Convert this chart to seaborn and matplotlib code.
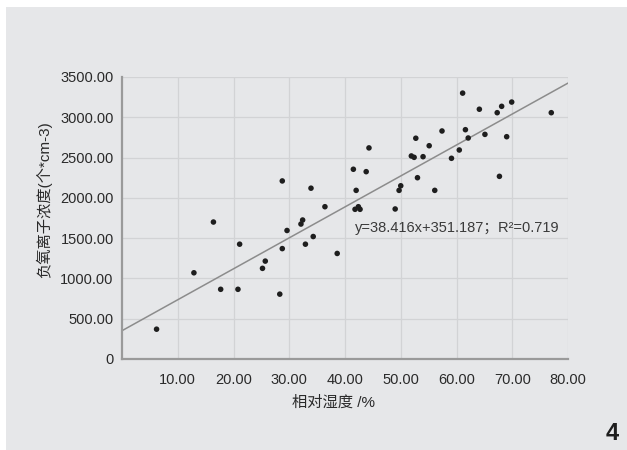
import matplotlib
matplotlib.use("Agg")
import matplotlib.pyplot as plt
import seaborn as sns
import pandas as pd
import numpy as np
from matplotlib.patches import Rectangle
from matplotlib.ticker import FixedLocator, FuncFormatter

# Relative humidity (%) and negative air ion concentration (ions per cm^3)
humidity = [6.2, 12.9, 16.4, 17.7, 20.8, 21.1, 25.2, 25.7, 28.3, 28.75,
            28.75, 29.6, 32.1, 32.4, 32.9, 33.9, 34.3, 36.4, 38.6, 41.5,
            41.8, 42.0, 42.4, 42.7, 43.8, 44.3, 49.0, 49.7, 50.0, 51.9,
            52.4, 52.7, 53.0, 54.0, 55.1, 56.1, 57.4, 59.1, 60.5, 61.1,
            61.6, 62.1, 64.1, 65.1, 67.3, 67.7, 68.1, 69.0, 69.9, 77.0]
ions = [370, 1070, 1700, 865, 865, 1425, 1125, 1215, 805, 2210,
        1370, 1595, 1675, 1725, 1425, 2120, 1520, 1890, 1310, 2355,
        1858, 2093, 1890, 1858, 2325, 2620, 1862, 2093, 2150, 2520,
        2503, 2740, 2250, 2511, 2647, 2093, 2830, 2491, 2594, 3300,
        2846, 2743, 3100, 2788, 3057, 2267, 3136, 2759, 3189, 3057]

# Fitted linear model
slope = 38.416
intercept = 351.187
r_squared = 0.719

x_ticks = [10, 20, 30, 40, 50, 60, 70, 80]
y_ticks = [0, 500, 1000, 1500, 2000, 2500, 3000, 3500]

df = pd.DataFrame({"humidity": humidity, "ions": ions})
fit_x = [0, 80]
fit = pd.DataFrame({"x": fit_x, "y": [slope * v + intercept for v in fit_x]})

sns.set_style("white")
bg = "#e6e7e9"
font_main = ["Liberation Sans", "Noto Sans CJK SC", "DejaVu Sans"]
plt.rcParams["font.family"] = font_main

fig = plt.figure(figsize=(6.27, 4.5), dpi=100)
fig.patch.set_facecolor("white")
fig.patches.append(Rectangle((6 / 627, 0), 1, 443 / 450, transform=fig.transFigure,
                             facecolor=bg, edgecolor="none", zorder=-10))

ax = fig.add_axes([122 / 627, 1 - 359 / 450, 446 / 627, 282 / 450])
ax.set_facecolor(bg)

sns.lineplot(data=fit, x="x", y="y", ax=ax, color="#8c8c8c", linewidth=1.1, zorder=2)
sns.scatterplot(data=df, x="humidity", y="ions", ax=ax, color="#1e1e1e",
                s=16, edgecolor="none", zorder=3)

ax.set_xlim(0, 80)
ax.set_ylim(0, 3500)
ax.xaxis.set_major_locator(FixedLocator(x_ticks))
ax.yaxis.set_major_locator(FixedLocator(y_ticks))
ax.xaxis.set_major_formatter(FuncFormatter(lambda v, p: f"{v:.2f}"))
ax.yaxis.set_major_formatter(FuncFormatter(lambda v, p: "0" if v == 0 else f"{v:.2f}"))

ax.grid(True, color="#d2d3d5", linewidth=0.9)
ax.set_axisbelow(True)
for side in ["top", "right"]:
    ax.spines[side].set_visible(False)
for side in ["left", "bottom"]:
    ax.spines[side].set_color("#9a9a9a")
    ax.spines[side].set_linewidth(1.6)

ax.tick_params(axis="both", length=0, labelsize=10.5, labelcolor="#2a2a2a")
ax.tick_params(axis="y", pad=6)
ax.tick_params(axis="x", pad=10)

ax.set_xlabel("相对湿度 /%", fontsize=11, color="#2a2a2a")
ax.set_ylabel("负氧离子浓度(个*cm-3)", fontsize=11, color="#2a2a2a")
ax.xaxis.set_label_coords((333 - 122) / 446, -(403 - 359) / 282)
ax.yaxis.set_label_coords((44 - 122) / 446, (359 - 200) / 282)
ax.xaxis.label.set_va("center")
ax.yaxis.label.set_va("center")

ax.text(0.523, 0.465, f"y={slope}x+{intercept}；R²={r_squared}",
        transform=ax.transAxes, fontsize=10.5, color="#3a3a3a", va="center", ha="left")

fig.text(612 / 627, 1 - 434 / 450, "4", fontsize=17, fontweight="heavy",
         color="#1e1e1e", ha="center", va="center")

fig.savefig("out.png", dpi=100)
